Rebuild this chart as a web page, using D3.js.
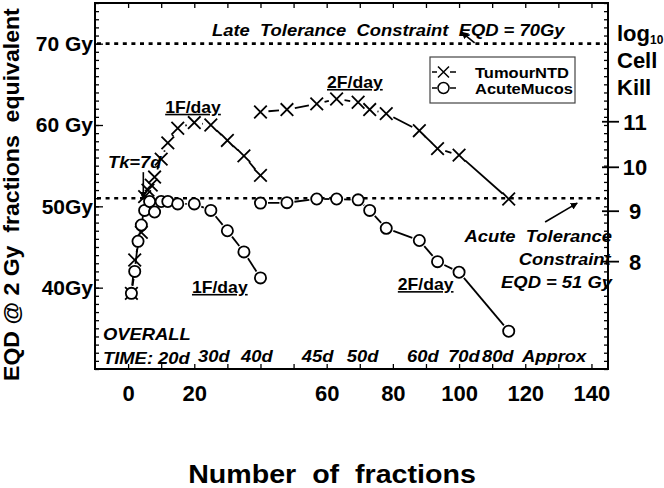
<!DOCTYPE html>
<html>
<head>
<meta charset="utf-8">
<script src="https://cdn.jsdelivr.net/npm/d3@7"></script>
<style>
  body { margin: 0; background: #fff; }
  svg text { font-family: "Liberation Sans", Arial, sans-serif; font-weight: bold; fill: #000; }
  .it { font-style: italic; }
</style>
</head>
<body>
<svg id="chart" width="664" height="488"></svg>
<script>
// *** Data ***

// once-a-day schedules
var tumourFx1F = [1, 2, 4, 5, 6, 7, 8, 10, 12, 15, 20, 25, 30, 35, 40];
var tumourEqd1F = [39.3, 43.4, 46.8, 51.2, 52.0, 52.6, 53.6, 55.8, 57.8, 59.6, 60.3, 60.0, 58.1, 56.2, 53.8];
var acuteFx1F = [1, 2, 3, 4, 5, 6.5, 8, 10, 12, 15, 20, 25, 30, 35, 40];
var acuteEqd1F = [39.3, 42.0, 45.7, 47.7, 49.5, 50.6, 49.3, 50.6, 50.6, 50.3, 50.3, 49.5, 47.0, 44.4, 41.2];

// twice-a-day schedules
var fx2F = [40, 48, 57, 63, 69.5, 73, 78, 88, 93.5, 100, 115];
var tumourEqd2F = [61.6, 61.9, 62.6, 63.2, 62.8, 61.9, 61.4, 59.3, 57.1, 56.3, 50.9];
var acuteEqd2F = [50.4, 50.45, 50.9, 50.9, 50.8, 49.5, 47.3, 45.8, 43.2, 41.9, 34.65];

// tolerance constraints (EQD, Gy)
var lateTolerance = 70;
var acuteTolerance = 51;

// axes
var xTicks = d3.range(0, 141, 10);
var xTickLabels = [0, 20, 60, 80, 100, 120, 140];
var yMajorTicks = [40, 50, 60, 70];
var yTickLabels = ["40Gy", "50Gy", "60 Gy", "70 Gy"];
var cellKillLabels = ["8", "9", "10", "11"];
var cellKillEqd = [43.2, 49.4, 54.8, 60.4]; // where each log10 kill tick sits on the EQD scale

// overall treatment time labels along the bottom
var timeLabels = ["30d", "40d", "45d", "50d", "60d", "70d", "80d", "Approx"];
var timeLabelFx = [21.1, 34.1, 52.5, 66.1, 84.3, 96.7, 106.9, 119.0];

// *** Chart ***

var svg = d3.select("#chart");
var frame = {left: 95, right: 608, top: 3, bottom: 369};
var stretch = 1.15; // the original lettering is a bit wider than Liberation Sans

var x = d3.scaleLinear().domain([-10, 145]).range([frame.left, frame.right]);
var y = d3.scaleLinear().domain([30, 75]).range([frame.bottom, frame.top]);

function clean(g) {
  g.select(".domain").remove();
  g.selectAll(".tick line").attr("stroke", "#000").attr("stroke-width", 1.3);
}

// ticks on all four sides (inward)
svg.append("g")
  .attr("transform", "translate(0," + frame.bottom + ")")
  .call(d3.axisBottom(x).tickValues(xTicks).tickSize(-5).tickFormat(""))
  .call(clean);
svg.append("g")
  .attr("transform", "translate(0," + frame.top + ")")
  .call(d3.axisTop(x).tickValues(xTicks).tickSize(-5).tickFormat(""))
  .call(clean);
svg.append("g")
  .attr("transform", "translate(" + frame.left + ",0)")
  .call(d3.axisLeft(y).tickValues(d3.range(30, 76, 1)).tickSize(-4).tickFormat(""))
  .call(clean);
svg.append("g")
  .attr("transform", "translate(" + frame.right + ",0)")
  .call(d3.axisRight(y).tickValues(d3.range(30, 76, 1)).tickSize(-4).tickFormat(""))
  .call(clean);

// x tick labels (40 is not labelled in the original)
var xLab = svg.append("g")
  .attr("transform", "translate(0," + frame.bottom + ")")
  .call(d3.axisBottom(x).tickValues(xTickLabels).tickSize(0).tickPadding(16))
  .call(clean);
xLab.selectAll("text").style("font-size", "22px");

// y major ticks and labels
var yLab = svg.append("g")
  .attr("transform", "translate(" + frame.left + ",0)")
  .call(d3.axisLeft(y).tickValues(yMajorTicks).tickSize(-8).tickPadding(2)
    .tickFormat(function (d, i) { return yTickLabels[i]; }))
  .call(clean);
yLab.selectAll("text").style("font-size", "21px");

// right axis: log10 cell kill
var rk = svg.append("g");
rk.selectAll("line").data(cellKillEqd).enter().append("line")
  .attr("x1", frame.right - 6).attr("x2", frame.right + 11)
  .attr("y1", function (d) { return y(d); }).attr("y2", function (d) { return y(d); })
  .attr("stroke", "#000").attr("stroke-width", 1.8);
rk.selectAll("text").data(cellKillEqd).enter().append("text")
  .attr("x", 635).attr("y", function (d) { return y(d); }).attr("dy", "0.36em")
  .attr("text-anchor", "middle").style("font-size", "22px")
  .text(function (d, i) { return cellKillLabels[i]; });
var logT = svg.append("text").attr("x", 617).attr("y", 41).style("font-size", "22px");
logT.append("tspan").text("log");
logT.append("tspan").attr("dy", 3).style("font-size", "12px").text("10");
svg.append("text").attr("x", 617).attr("y", 68).style("font-size", "22px").text("Cell");
svg.append("text").attr("x", 617).attr("y", 95).style("font-size", "22px").text("Kill");

// frame
svg.append("rect")
  .attr("x", frame.left).attr("y", frame.top)
  .attr("width", frame.right - frame.left).attr("height", frame.bottom - frame.top)
  .attr("fill", "none").attr("stroke", "#000").attr("stroke-width", 2);

// axis titles
svg.append("text")
  .attr("transform", "translate(19,381) rotate(-90) scale(1.05,1)")
  .style("font-size", "22px").style("white-space", "pre")
  .text("EQD @ 2 Gy  fractions  equivalent");
svg.append("text")
  .attr("transform", "translate(332,483) scale(1.1,1)")
  .attr("text-anchor", "middle")
  .style("font-size", "26px").style("white-space", "pre")
  .text("Number  of  fractions");

// tolerance lines
svg.selectAll(".tol").data([lateTolerance, acuteTolerance]).enter().append("line")
  .attr("class", "tol")
  .attr("x1", frame.left + 2).attr("x2", frame.right - 2)
  .attr("y1", function (d) { return y(d); }).attr("y2", function (d) { return y(d); })
  .attr("stroke", "#000").attr("stroke-width", 2.6).attr("stroke-dasharray", "4,4.6");

// *** Series ***

function toPoints(fx, eqd) {
  return fx.map(function (f, i) { return [x(f), y(eqd[i])]; });
}

// line pieces that stop short of the markers
function gapped(points, gap) {
  var segs = [];
  for (var i = 1; i < points.length; i++) {
    var a = points[i - 1], b = points[i];
    var dx = b[0] - a[0], dy = b[1] - a[1];
    var len = Math.sqrt(dx * dx + dy * dy);
    if (len <= 2 * gap) continue;
    var ux = dx / len, uy = dy / len;
    segs.push([[a[0] + ux * gap, a[1] + uy * gap], [b[0] - ux * gap, b[1] - uy * gap]]);
  }
  return segs;
}

var lineMaker = d3.line();

function drawSeries(points, kind) {
  var g = svg.append("g");
  var gap = kind === "x" ? 8 : 7.5;
  g.selectAll("path.seg").data(gapped(points, gap)).enter().append("path")
    .attr("class", "seg")
    .attr("d", lineMaker)
    .attr("stroke", "#000").attr("stroke-width", 1.8).attr("fill", "none");
  if (kind === "x") {
    g.selectAll("path.mk").data(points).enter().append("path")
      .attr("class", "mk")
      .attr("d", function (p) {
        var s = 6.3;
        return "M" + (p[0] - s) + "," + (p[1] - s) + "L" + (p[0] + s) + "," + (p[1] + s) +
               "M" + (p[0] - s) + "," + (p[1] + s) + "L" + (p[0] + s) + "," + (p[1] - s);
      })
      .attr("stroke", "#000").attr("stroke-width", 1.8).attr("fill", "none");
  } else {
    g.selectAll("circle").data(points).enter().append("circle")
      .attr("cx", function (p) { return p[0]; }).attr("cy", function (p) { return p[1]; })
      .attr("r", 5.6)
      .attr("fill", "#fff").attr("stroke", "#000").attr("stroke-width", 1.8);
  }
}

drawSeries(toPoints(tumourFx1F, tumourEqd1F), "x");
drawSeries(toPoints(fx2F, tumourEqd2F), "x");
drawSeries(toPoints(acuteFx1F, acuteEqd1F), "o");
drawSeries(toPoints(fx2F, acuteEqd2F), "o");

// *** Annotations ***

function note(fx, eqd, str, opts) {
  opts = opts || {};
  var t = svg.append("text")
    .attr("transform", "translate(" + x(fx) + "," + y(eqd) + ") scale(" + (opts.sx || stretch) + ",1)")
    .attr("text-anchor", opts.anchor || "start")
    .style("font-size", (opts.size || 16) + "px")
    .style("white-space", "pre")
    .text(str);
  if (opts.italic) t.attr("class", "it");
  if (opts.underline) t.style("text-decoration", "underline");
  return t;
}

note(25.35, 70.95, "Late  Tolerance  Constraint  EQD = 70Gy", {italic: true});
note(-6.1, 54.7, "Tk=7d", {italic: true});
note(11.2, 61.5, "1F/day", {underline: true, sx: 1.1});
note(60.1, 64.55, "2F/day", {underline: true, sx: 1.1});
note(19.3, 39.35, "1F/day", {underline: true, sx: 1.1});
note(81.5, 39.7, "2F/day", {underline: true, sx: 1.1});
note(146.2, 45.6, "Acute  Tolerance", {italic: true, anchor: "end"});
note(145.8, 42.8, "Constraint", {italic: true, anchor: "end"});
note(146.2, 40.0, "EQD = 51 Gy", {italic: true, anchor: "end"});
note(-7.6, 33.6, "OVERALL", {italic: true});
note(-7.6, 30.6, "TIME: 20d", {italic: true});
timeLabels.forEach(function (d, i) {
  note(timeLabelFx[i], 30.85, d, {italic: true});
});

// arrows
var defs = svg.append("defs");
defs.append("marker")
  .attr("id", "head").attr("viewBox", "0 0 10 10")
  .attr("refX", 9).attr("refY", 5)
  .attr("markerWidth", 4.5).attr("markerHeight", 4.5)
  .attr("orient", "auto")
  .append("path").attr("d", "M0,0L10,5L0,10z").attr("fill", "#000");

var arrows = [
  [[x(4.6), y(54.2)], [x(4.6), y(51.0)]],     // Tk=7d
  [[x(104.7), y(70.1)], [x(100.8), y(71.4)]], // late tolerance
  [[x(126.0), y(48.07)], [x(135.7), y(50.4)]] // acute tolerance
];
svg.selectAll(".arrow").data(arrows).enter().append("path")
  .attr("class", "arrow")
  .attr("d", lineMaker)
  .attr("stroke", "#000").attr("stroke-width", 1.6).attr("fill", "none")
  .attr("marker-end", "url(#head)");

// legend
var legend = svg.append("g");
legend.append("rect")
  .attr("x", 430).attr("y", 57).attr("width", 145).attr("height", 46)
  .attr("fill", "#fff").attr("stroke", "#444").attr("stroke-width", 1.2);
var legendRows = [{name: "TumourNTD", kind: "x", cy: 72}, {name: "AcuteMucos", kind: "o", cy: 88}];
legendRows.forEach(function (r) {
  legend.append("line").attr("x1", 432).attr("x2", 437).attr("y1", r.cy).attr("y2", r.cy)
    .attr("stroke", "#000").attr("stroke-width", 1.5);
  legend.append("line").attr("x1", 450).attr("x2", 456).attr("y1", r.cy).attr("y2", r.cy)
    .attr("stroke", "#000").attr("stroke-width", 1.5);
  if (r.kind === "x") {
    legend.append("path")
      .attr("d", "M438," + (r.cy - 5.5) + "L449," + (r.cy + 5.5) + "M438," + (r.cy + 5.5) + "L449," + (r.cy - 5.5))
      .attr("stroke", "#000").attr("stroke-width", 1.5);
  } else {
    legend.append("circle").attr("cx", 443.5).attr("cy", r.cy).attr("r", 5.5)
      .attr("fill", "#fff").attr("stroke", "#000").attr("stroke-width", 1.5);
  }
  legend.append("text")
    .attr("transform", "translate(475," + (r.cy + 5.5) + ") scale(1.1,1)")
    .style("font-size", "15px").text(r.name);
});
</script>
</body>
</html>
